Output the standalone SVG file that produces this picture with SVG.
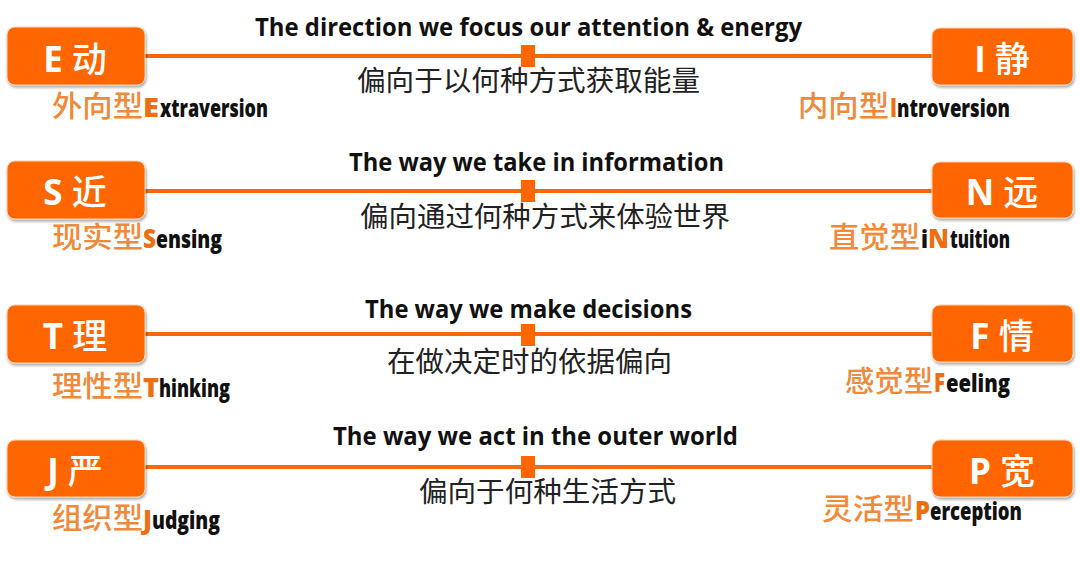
<svg xmlns="http://www.w3.org/2000/svg" width="1080" height="561" viewBox="0 0 1080 561">
<defs>
<filter id="sh" x="-10%" y="-10%" width="130%" height="140%">
<feDropShadow dx="1" dy="2" stdDeviation="1.5" flood-color="#000" flood-opacity="0.35"/>
</filter>
<style>
.box{fill:#FF6600;stroke:#FFD0B0;stroke-width:1;filter:url(#sh)}
.bt{fill:#fff;font-family:"Open Sans","Noto Sans CJK SC",sans-serif;font-weight:700;font-size:35px;text-anchor:middle}
.bc{font-family:"Noto Sans CJK SC",sans-serif;font-weight:500}
.ln{stroke:#F7680D;stroke-width:4;fill:none}
.sq{fill:#FF6600}
.hd{fill:#111;font-family:"Open Sans","Liberation Sans",sans-serif;font-weight:700;font-size:25px}
.cn{fill:#222;font-family:"Noto Sans CJK SC",sans-serif;font-size:28px}
.zh{fill:#F08A3A;font-family:"Noto Sans CJK SC",sans-serif;font-size:29px;font-weight:500}
.ini{fill:#EE6F10;font-family:"Open Sans","Liberation Sans",sans-serif;font-weight:800;font-size:26px}
.en{fill:#111;font-family:"Open Sans","Liberation Sans",sans-serif;font-weight:800;font-size:25px}
</style>
</defs>
<rect width="1080" height="561" fill="#fff"/>
<g id="connectors">
<line class="ln" x1="145" y1="56" x2="933" y2="56"/>
<rect class="sq" x="521" y="45" width="14" height="22"/>
<line class="ln" x1="145" y1="191" x2="933" y2="191"/>
<rect class="sq" x="521" y="180" width="14" height="22"/>
<line class="ln" x1="145" y1="334" x2="933" y2="334"/>
<rect class="sq" x="521" y="324" width="14" height="22"/>
<line class="ln" x1="145" y1="467" x2="933" y2="467"/>
<rect class="sq" x="521" y="456" width="14" height="22"/>
</g>
<g id="labels">
<text class="hd" x="255" y="36" textLength="547" lengthAdjust="spacingAndGlyphs">The direction we focus our attention &amp; energy</text>
<text class="cn" x="357" y="91" textLength="343" lengthAdjust="spacingAndGlyphs">偏向于以何种方式获取能量</text>
<text class="hd" x="349" y="171" textLength="375" lengthAdjust="spacingAndGlyphs">The way we take in information</text>
<text class="cn" x="360" y="227" textLength="370" lengthAdjust="spacingAndGlyphs">偏向通过何种方式来体验世界</text>
<text class="hd" x="365" y="318" textLength="327" lengthAdjust="spacingAndGlyphs">The way we make decisions</text>
<text class="cn" x="387" y="372" textLength="285" lengthAdjust="spacingAndGlyphs">在做决定时的依据偏向</text>
<text class="hd" x="333" y="445" textLength="405" lengthAdjust="spacingAndGlyphs">The way we act in the outer world</text>
<text class="cn" x="419" y="502" textLength="257" lengthAdjust="spacingAndGlyphs">偏向于何种生活方式</text>
</g>
<g id="node-E">
<rect class="box" x="7" y="27" width="138" height="58" rx="8"/>
<text class="bt" x="75" y="72">E <tspan class="bc">动</tspan></text>
<text class="zh" x="52" y="117" textLength="91" lengthAdjust="spacingAndGlyphs">外向型</text>
<text class="ini" x="143" y="117" textLength="16" lengthAdjust="spacingAndGlyphs">E</text>
<text class="en" x="160" y="117" textLength="108" lengthAdjust="spacingAndGlyphs">xtraversion</text>
</g>
<g id="node-I">
<rect class="box" x="932" y="28" width="141" height="57" rx="8"/>
<text class="bt" x="1002" y="72">I <tspan class="bc">静</tspan></text>
<text class="zh" x="798" y="117" textLength="91" lengthAdjust="spacingAndGlyphs">内向型</text>
<text class="ini" x="890" y="117" textLength="7" lengthAdjust="spacingAndGlyphs">I</text>
<text class="en" x="897" y="117" textLength="113" lengthAdjust="spacingAndGlyphs">ntroversion</text>
</g>
<g id="node-S">
<rect class="box" x="7" y="161" width="138" height="58" rx="8"/>
<text class="bt" x="75" y="205">S <tspan class="bc">近</tspan></text>
<text class="zh" x="52" y="248" textLength="91" lengthAdjust="spacingAndGlyphs">现实型</text>
<text class="ini" x="143" y="248" textLength="13" lengthAdjust="spacingAndGlyphs">S</text>
<text class="en" x="156" y="248" textLength="66" lengthAdjust="spacingAndGlyphs">ensing</text>
</g>
<g id="node-N">
<rect class="box" x="932" y="162" width="141" height="56" rx="8"/>
<text class="bt" x="1002" y="205">N <tspan class="bc">远</tspan></text>
<text class="zh" x="829" y="248" textLength="91" lengthAdjust="spacingAndGlyphs">直觉型</text>
<text class="en" x="921" y="248" textLength="7" lengthAdjust="spacingAndGlyphs">i</text>
<text class="ini" x="928" y="248" textLength="21" lengthAdjust="spacingAndGlyphs">N</text>
<text class="en" x="950" y="248" textLength="60" lengthAdjust="spacingAndGlyphs">tuition</text>
</g>
<g id="node-T">
<rect class="box" x="7" y="305" width="138" height="58" rx="8"/>
<text class="bt" x="75" y="349">T <tspan class="bc">理</tspan></text>
<text class="zh" x="52" y="397" textLength="91" lengthAdjust="spacingAndGlyphs">理性型</text>
<text class="ini" x="143" y="397" textLength="16" lengthAdjust="spacingAndGlyphs">T</text>
<text class="en" x="159" y="397" textLength="71" lengthAdjust="spacingAndGlyphs">hinking</text>
</g>
<g id="node-F">
<rect class="box" x="932" y="305" width="141" height="57" rx="8"/>
<text class="bt" x="1002" y="349">F <tspan class="bc">情</tspan></text>
<text class="zh" x="845" y="392" textLength="88" lengthAdjust="spacingAndGlyphs">感觉型</text>
<text class="ini" x="934" y="392" textLength="11" lengthAdjust="spacingAndGlyphs">F</text>
<text class="en" x="946" y="392" textLength="64" lengthAdjust="spacingAndGlyphs">eeling</text>
</g>
<g id="node-J">
<rect class="box" x="7" y="440" width="138" height="57" rx="8"/>
<text class="bt" x="75" y="484">J <tspan class="bc">严</tspan></text>
<text class="zh" x="52" y="529" textLength="91" lengthAdjust="spacingAndGlyphs">组织型</text>
<text class="ini" x="143" y="529" textLength="9" lengthAdjust="spacingAndGlyphs">J</text>
<text class="en" x="152" y="529" textLength="68" lengthAdjust="spacingAndGlyphs">udging</text>
</g>
<g id="node-P">
<rect class="box" x="932" y="440" width="141" height="57" rx="8"/>
<text class="bt" x="1002" y="484">P <tspan class="bc">宽</tspan></text>
<text class="zh" x="822" y="520" textLength="92" lengthAdjust="spacingAndGlyphs">灵活型</text>
<text class="ini" x="915" y="520" textLength="15" lengthAdjust="spacingAndGlyphs">P</text>
<text class="en" x="930" y="520" textLength="92" lengthAdjust="spacingAndGlyphs">erception</text>
</g>
</svg>
